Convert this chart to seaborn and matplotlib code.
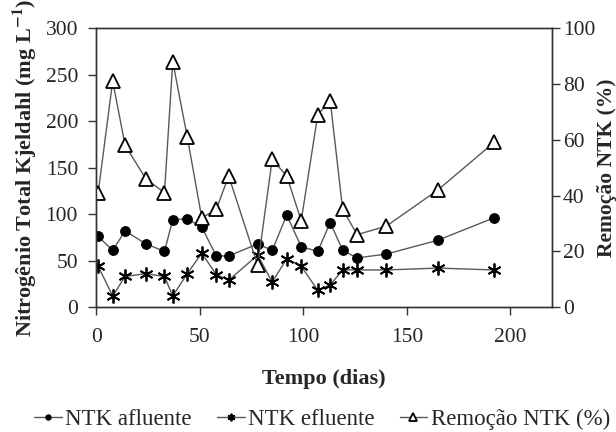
import matplotlib
matplotlib.use("Agg")
import matplotlib.pyplot as plt
import seaborn as sns

# tempo (dias)
days = [1, 8, 14, 24, 33, 37, 44, 51, 58, 64, 78, 85, 92, 99, 107, 113, 119, 126, 140, 165, 192]
# NTK (mg/L)
afluente = [76, 61, 82, 68, 60, 94, 95, 86, 55, 55, 68, 61, 99, 65, 60, 91, 61, 53, 57, 72, 96]
efluente = [44, 12, 33, 36, 33, 12, 36, 58, 35, 29, 56, 27, 52, 44, 18, 24, 40, 40, 40, 42, 40]
# remocao (%)
remocao = [41, 81, 58, 46, 41, 88, 61, 32, 35, 47, 15, 53, 47, 31, 69, 74, 35, 26, 29, 42, 59]

sns.set_style("ticks")
plt.rcParams["font.family"] = ["Liberation Serif", "DejaVu Serif"]
plt.rcParams["mathtext.fontset"] = "stix"

fig = plt.figure(figsize=(6.16, 4.32), dpi=100)
ax = fig.add_axes([0.156, 0.289, 0.740, 0.646])
ax2 = ax.twinx()

line_c = "0.35"
sns.lineplot(x=days, y=afluente, ax=ax, color=line_c, lw=1, marker="o", ms=7,
             mfc="black", mec="black", label="NTK afluente", legend=False)
sns.lineplot(x=days, y=efluente, ax=ax, color=line_c, lw=1, marker=(6, 2, 0), ms=10,
             mfc="black", mec="black", mew=1.3, label="NTK efluente", legend=False)
sns.lineplot(x=days, y=remocao, ax=ax2, color=line_c, lw=1, marker="^", ms=10,
             mfc="white", mec="black", mew=1.3, label="Remoção NTK (%)", legend=False)

ax.set_xlim(0, 220)
ax.set_ylim(0, 300)
ax2.set_ylim(0, 100)
ax.set_xticks([0, 50, 100, 150, 200])
ax.set_yticks(range(0, 301, 50))
ax2.set_yticks(range(0, 101, 20))

fs = 15.5
for a in (ax, ax2):
    a.tick_params(labelsize=fs, length=6, width=1, color="0.2", direction="out")
    for s in a.spines.values():
        s.set_visible(True)
        s.set_linewidth(1)
        s.set_color("0.2")
ax.tick_params(axis="x", pad=9)
ax.tick_params(axis="y", pad=7)
ax2.tick_params(axis="y", pad=2)

ax.set_xlabel("Tempo (dias)", fontsize=16, fontweight="bold", labelpad=16)
ax.set_ylabel(r"Nitrogênio Total Kjeldahl (mg L$^{\mathbf{-1}}$)", fontsize=16,
              fontweight="bold", labelpad=5)
ax2.set_ylabel("Remoção NTK (%)", fontsize=15.5, fontweight="bold", labelpad=1)

h1, l1 = ax.get_legend_handles_labels()
h2, l2 = ax2.get_legend_handles_labels()
fig.legend(h1 + h2, l1 + l2, loc="center", bbox_to_anchor=(0.523, 0.03), ncol=3,
           frameon=False, fontsize=16.5, handlelength=1.2, handletextpad=0.15,
           columnspacing=1.1, markerscale=0.55)

fig.savefig("out.png", dpi=100)
